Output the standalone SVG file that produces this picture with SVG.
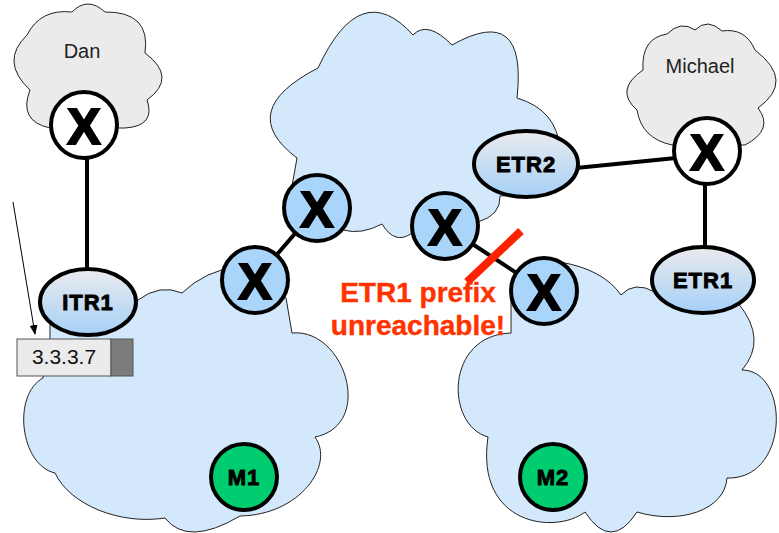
<svg xmlns="http://www.w3.org/2000/svg" width="779" height="533" viewBox="0 0 779 533">
  <defs>
    <linearGradient id="ovalFill" x1="0" y1="0" x2="0" y2="1">
      <stop offset="0" stop-color="#ebebed"/>
      <stop offset="1" stop-color="#a5d0f7"/>
    </linearGradient>
    <marker id="arrowHead" markerWidth="10" markerHeight="10" refX="9" refY="5" orient="auto" markerUnits="userSpaceOnUse">
      <path d="M0,1 L10,5 L0,9 Z" fill="#000"/>
    </marker>
    <style>
      .cloud-blue { fill: #d4e8fb; stroke: #222; stroke-width: 1; }
      .cloud-grey { fill: #ebebeb; stroke: #222; stroke-width: 1; }
      .link { stroke: #000; stroke-width: 4; fill: none; }
      .router { fill: #a9d5fa; stroke: #000; stroke-width: 4; }
      .router-white { fill: #ffffff; stroke: #000; stroke-width: 4; }
      .oval { fill: url(#ovalFill); stroke: #000; stroke-width: 4; }
      .host { fill: #00cc70; stroke: #000; stroke-width: 4; }
      .xmark { font-family: "Liberation Sans", Arial, sans-serif; font-weight: bold; font-size: 50px; text-anchor: middle; fill: #000; stroke: #000; stroke-width: 2; }
      .tag { font-family: "Liberation Sans", Arial, sans-serif; font-weight: bold; font-size: 22px; text-anchor: middle; fill: #000; letter-spacing: 1px; stroke: #000; stroke-width: 0.9; }
      .site { font-family: "Liberation Sans", Arial, sans-serif; font-size: 20px; text-anchor: middle; fill: #222; }
      .alert { font-family: "Liberation Sans", Arial, sans-serif; font-weight: bold; font-size: 28px; text-anchor: middle; fill: #ff3300; stroke: #ff3300; stroke-width: 0.4; }
    </style>
  </defs>

  <!-- clouds -->
  <g id="cloud-dan">
    <path class="cloud-grey" d="M27,35 Q40.5,8.5 72,12 Q87.5,-4 105,12 Q151,11.5 145,53 Q178,77.5 147,100 Q156,126 125,128 L50,128 Q18,121 30,90 Q-0.5,61.5 27,35 Z"/>
    <text class="site" x="82" y="58">Dan</text>
  </g>
  <g id="cloud-michael">
    <path class="cloud-grey" d="M643,70 Q641,38 667,34 Q681,20 695,30 Q707.5,17.5 722,31 Q745.5,27.5 755,50 Q795.5,81 758,108 Q774.5,129.5 745,145 L672,145 Q641.5,138.5 637,110 Q614,90 643,70 Z"/>
    <text class="site" x="700" y="73">Michael</text>
  </g>
  <g id="cloud-core">
    <path class="cloud-blue" d="M292,186 L297,158 Q234.5,111 318,68 Q360.5,-23.5 413,35 Q427.5,20 452,45 Q527.5,2.5 517,98 Q557.5,110 560,150 Q565,195 500,196 Q501,215 478,222 L412,233 Q395,245.5 382,224 Q361.5,235 343,230 L317,232 Z"/>
  </g>
  <g id="cloud-left">
    <path class="cloud-blue" d="M50,338 L50,320 L138,300 Q160,283.5 182,293 Q205,270.5 240,266 L286,298 L292,333 C345,328 375,425 315,437 C335,465 300,515 240,516 Q187.5,547 165,518 C120,525 70,505 55,473 C20,465 12,395 43,378 Z"/>
  </g>
  <g id="cloud-right">
    <path class="cloud-blue" d="M511,333 L511,295 L560,262 Q603.5,269.5 621,295 Q634,280.5 655,292 L738,303 Q768,339.5 742,370 C790,370 790,480 727,478 C725,510 680,525 637,512 Q611,552 585,512 C555,535 475,525 488,437 C445,425 445,335 511,333 Z"/>
  </g>

  <!-- connectors -->
  <g id="connectors">
    <line class="link" x1="87" y1="158" x2="87" y2="270"/>
    <line class="link" x1="255" y1="280" x2="317" y2="208"/>
    <line class="link" x1="445" y1="226" x2="544" y2="291"/>
    <line class="link" x1="576" y1="168" x2="676" y2="158"/>
    <line class="link" x1="705" y1="182" x2="705" y2="248"/>
    <line x1="13" y1="202" x2="35" y2="334" stroke="#000" stroke-width="1" marker-end="url(#arrowHead)"/>
  </g>

  <!-- routers -->
  <g id="router-dan">
    <circle class="router-white" cx="84" cy="125" r="33"/>
    <text class="xmark" x="84" y="144">X</text>
  </g>
  <g id="router-michael">
    <circle class="router-white" cx="707" cy="151" r="33"/>
    <text class="xmark" x="707" y="170">X</text>
  </g>
  <g id="router-a">
    <circle class="router" cx="255" cy="280" r="33"/>
    <text class="xmark" x="255" y="299">X</text>
  </g>
  <g id="router-b">
    <circle class="router" cx="317" cy="208" r="33"/>
    <text class="xmark" x="317" y="227">X</text>
  </g>
  <g id="router-c">
    <circle class="router" cx="445" cy="226" r="33"/>
    <text class="xmark" x="445" y="245">X</text>
  </g>
  <g id="router-d">
    <circle class="router" cx="544" cy="291" r="33"/>
    <text class="xmark" x="544" y="310">X</text>
  </g>

  <!-- tunnel routers -->
  <g id="itr1">
    <ellipse class="oval" cx="88" cy="302" rx="48" ry="33"/>
    <text class="tag" x="88" y="310">ITR1</text>
  </g>
  <g id="etr2">
    <ellipse class="oval" cx="526" cy="164" rx="52" ry="33"/>
    <text class="tag" x="526" y="172">ETR2</text>
  </g>
  <g id="etr1">
    <ellipse class="oval" cx="703" cy="280" rx="51" ry="33"/>
    <text class="tag" x="703" y="288">ETR1</text>
  </g>

  <!-- hosts -->
  <g id="m1">
    <circle class="host" cx="244" cy="477" r="33"/>
    <text class="tag" x="244" y="485">M1</text>
  </g>
  <g id="m2">
    <circle class="host" cx="553" cy="477" r="33"/>
    <text class="tag" x="553" y="485">M2</text>
  </g>

  <!-- address entry -->
  <g id="address-box">
    <rect x="17" y="339" width="94" height="37" fill="#ebebeb" stroke="#555" stroke-width="1"/>
    <rect x="111" y="339" width="22" height="37" fill="#7c7c7c" stroke="#555" stroke-width="1"/>
    <text x="64" y="364" font-family="Liberation Sans, Arial, sans-serif" font-size="21" text-anchor="middle" fill="#111">3.3.3.7</text>
  </g>

  <!-- broken link and warning -->
  <g id="failure">
    <line x1="467" y1="282" x2="521" y2="231" stroke="#ff2200" stroke-width="8"/>
    <text class="alert" x="418" y="302">ETR1 prefix</text>
    <text class="alert" x="418" y="335">unreachable!</text>
  </g>
</svg>
